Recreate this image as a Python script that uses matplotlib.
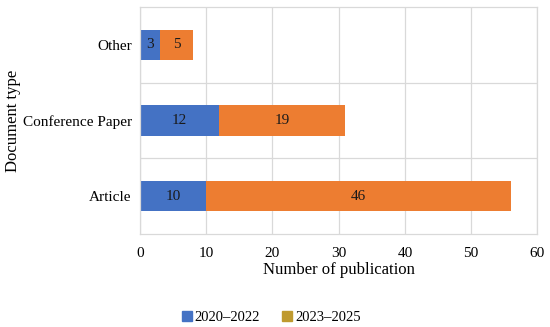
import matplotlib.pyplot as plt
from matplotlib.patches import Patch

plt.rcParams['font.family'] = ['Liberation Serif', 'DejaVu Serif']

categories = ['Article', 'Conference Paper', 'Other']
period_1 = [10, 12, 3]
period_2 = [46, 19, 5]
series_labels = ['2020\u20132022', '2023\u20132025']

blue = '#4472C4'
orange = '#ED7D31'
legend_gold = '#BF9A2F'

fig = plt.figure(figsize=(5.5, 3.27), dpi=100)
ax = fig.add_axes([0.2545, 0.284, 0.7225, 0.695])

y = list(range(len(categories)))
bars1 = ax.barh(y, period_1, height=0.4, color=blue)
bars2 = ax.barh(y, period_2, left=period_1, height=0.4, color=orange)

for bars, vals in ((bars1, period_1), (bars2, period_2)):
    for b, v in zip(bars, vals):
        ax.text(b.get_x() + b.get_width() / 2, b.get_y() + b.get_height() / 2,
                str(v), ha='center', va='center', fontsize=11, color='#1a1a1a')

ax.set_xlim(0, 60)
ax.set_ylim(-0.5, 2.5)
ax.set_xticks(range(0, 61, 10))
ax.set_yticks(y)
ax.set_yticklabels(categories)
# category separators
ax.set_yticks([0.5, 1.5], minor=True)
ax.grid(axis='x', color='#D9D9D9', lw=0.9)
ax.grid(axis='y', which='minor', color='#D9D9D9', lw=0.9)
ax.set_axisbelow(True)
ax.tick_params(axis='y', length=0, labelsize=11, pad=6)
ax.tick_params(axis='x', length=0, labelsize=11, pad=9)
ax.tick_params(which='minor', length=0)
for s in ax.spines.values():
    s.set_color('#D9D9D9')
    s.set_linewidth(0.9)

ax.set_xlabel('Number of publication', fontsize=12, labelpad=2)
ax.set_ylabel('Document type', fontsize=12, labelpad=1)

handles = [Patch(color=blue), Patch(color=legend_gold)]
fig.legend(handles, series_labels, loc='center', bbox_to_anchor=(0.493, 0.028),
           ncol=2, frameon=False, fontsize=10.5, handlelength=0.7, handleheight=0.7,
           handletextpad=0.2, columnspacing=1.5)

fig.savefig('out.png', dpi=100)
